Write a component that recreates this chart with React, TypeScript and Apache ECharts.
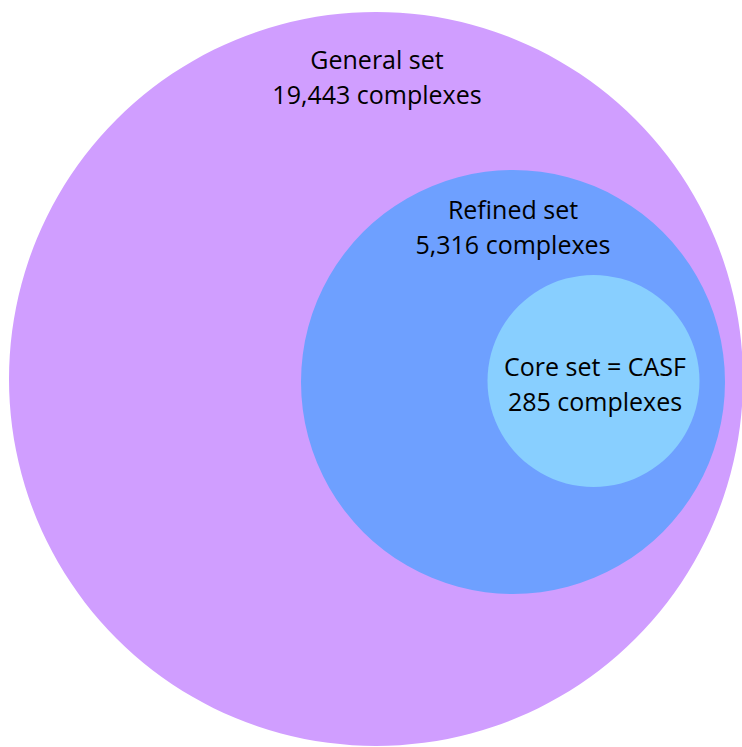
import React, { useEffect, useRef } from "react";
import * as echarts from "echarts";

const setNames = ["General set", "Refined set", "Core set = CASF"];
const complexCounts = ["19,443", "5,316", "285"];
const centerX = [376, 513, 593.5];
const centerY = [379, 382, 381];
const radius = [367, 212, 106];
const fillColors = ["#D09EFF", "#6EA0FF", "#88CFFF"];
const labelCenterY = [76, 226, 383];
const labelCenterX = [377, 513, 595];

export default function App() {
  const ref = useRef<HTMLDivElement>(null);
  useEffect(() => {
    document.body.style.margin = "0";
    document.body.style.overflow = "hidden";
    if (!ref.current) return;
    const chart = echarts.init(ref.current, null, { renderer: "svg" });
    const data = setNames.map((n, i) => [centerX[i], centerY[i], radius[i], labelCenterX[i], labelCenterY[i], i]);
    chart.setOption({
      animation: false,
      backgroundColor: "#ffffff",
      grid: { left: 0, top: 0, width: 742, height: 747 },
      xAxis: { type: "value", min: 0, max: 742, show: false },
      yAxis: { type: "value", min: 0, max: 747, inverse: true, show: false },
      series: [
        {
          type: "custom",
          clip: false,
          data,
          renderItem: (params: any, api: any) => {
            const i = api.value(5);
            const c = api.coord([api.value(0), api.value(1)]);
            const r = api.size([api.value(2), 0])[0];
            const t = api.coord([api.value(3), api.value(4)]);
            return {
              type: "group",
              children: [
                {
                  type: "circle",
                  shape: { cx: c[0], cy: c[1], r },
                  style: { fill: fillColors[i] },
                },
                {
                  type: "text",
                  x: t[0],
                  y: t[1],
                  style: {
                    text: setNames[i] + "\n" + complexCounts[i] + " complexes",
                    fill: "#000000",
                    font: "25px 'Open Sans'",
                    lineHeight: 35,
                    align: "center",
                    verticalAlign: "middle",
                  },
                },
              ],
            };
          },
        },
      ],
    });
    return () => chart.dispose();
  }, []);
  return <div ref={ref} style={{ width: 742, height: 747 }} />;
}
